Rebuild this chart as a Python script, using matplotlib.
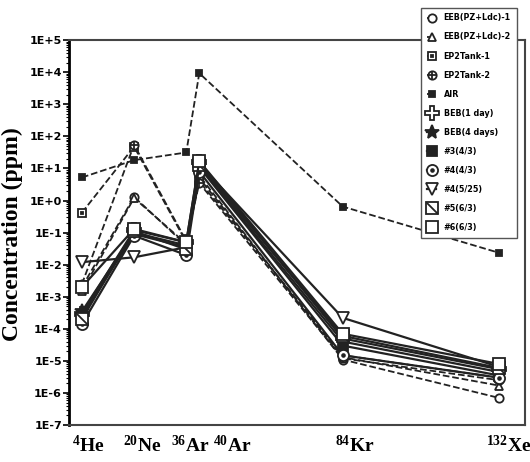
import numpy as np
import matplotlib
matplotlib.use('Agg')
import matplotlib.pyplot as plt
from matplotlib.path import Path
from matplotlib.ticker import LogLocator, FuncFormatter, NullFormatter

plt.rcParams['mathtext.fontset'] = 'custom'
plt.rcParams['mathtext.rm'] = 'Liberation Serif:bold'
plt.rcParams['mathtext.default'] = 'rm'

# isotope masses (x positions) and labels
masses = [4, 20, 36, 40, 84, 132]
iso_labels = [r'$^{4}$He', r'$^{20}$Ne', r'$^{36}$Ar', r'$^{40}$Ar', r'$^{84}$Kr', r'$^{132}$Xe']

# series values (ppm)
eeb1 = [2.0e-3, 1.3, 0.040, 6.0, 1.1e-5, 7.0e-7]
eeb2 = [1.5e-3, 1.2, 0.045, 5.0, 1.3e-5, 1.7e-6]
tank1 = [0.42, 48, 0.050, 4.0, 1.5e-5, 3.0e-6]
tank2 = [2.5e-3, 55, 0.055, 3.5, 1.2e-5, 2.5e-6]
air = [5.24, 18.2, 31.5, 9340, 0.65, 0.0234]
beb1 = [3.0e-4, 0.12, 0.050, 16, 5.0e-5, 5.5e-6]
beb4 = [3.5e-4, 0.10, 0.040, 12, 4.0e-5, 4.5e-6]
s3_43 = [2.5e-4, 0.09, 0.035, 11, 3.0e-5, 3.5e-6]
s4_43 = [1.4e-4, 0.08, 0.020, 8, 1.5e-5, 3.0e-6]
s4_525 = [0.012, 0.017, 0.035, 14, 2.2e-4, 6.5e-6]
s5_63 = [2.0e-4, 0.11, 0.030, 13, 6.0e-5, 6.0e-6]
s6_63 = [2.0e-3, 0.13, 0.050, 17, 7.0e-5, 8.0e-6]

names = ['EEB(PZ+Ldc)-1', 'EEB(PZ+Ldc)-2', 'EP2Tank-1', 'EP2Tank-2', 'AIR',
         'BEB(1 day)', 'BEB(4 days)', '#3(4/3)', '#4(4/3)', '#4(5/25)', '#5(6/3)', '#6(6/3)']
series = [eeb1, eeb2, tank1, tank2, air, beb1, beb4, s3_43, s4_43, s4_525, s5_63, s6_63]

diag = Path([(-1, 1), (1, -1)], [Path.MOVETO, Path.LINETO])
# (linestyle, marker, size, facecolor, overlay marker, overlay size)
styles = [
    ('--', 'o', 6, 'white', None, 0),
    ('--', '^', 6, 'white', None, 0),
    ('--', 's', 6, 'white', 's', 2),
    ('--', 'o', 6, 'white', '+', 6),
    ('--', 's', 4.5, '#222222', None, 0),
    ('-', 'P', 10, 'white', None, 0),
    ('-', '*', 10, '#222222', None, 0),
    ('-', 's', 6.5, '#222222', None, 0),
    ('-', 'o', 8, 'white', '.', 4),
    ('-', 'v', 9, 'white', None, 0),
    ('-', 's', 8, 'white', diag, 8),
    ('-', 's', 8, 'white', None, 0),
]

fig = plt.figure(figsize=(5.30, 4.62), dpi=100)
ax = fig.add_axes([0.130, 0.080, 0.861, 0.833])
col = '#222222'

handles = []
for vals, name, (ls, mk, ms, fc, ov, ovs) in zip(series, names, styles):
    lw = 1.3 if ls == '--' else 1.6
    l1, = ax.plot(masses, vals, linestyle=ls, color=col, lw=lw, marker=mk,
                  markersize=ms, markerfacecolor=fc, markeredgecolor=col,
                  markeredgewidth=1.3, label=name)
    if ov is not None:
        l2, = ax.plot(masses, vals, linestyle='none', marker=ov, markersize=ovs,
                      color=col, markeredgewidth=1.3)
        handles.append((l1, l2))
    else:
        handles.append(l1)

ax.set_yscale('log')
ax.set_ylim(1e-7, 1e5)
ax.set_xlim(0, 140)
ax.set_xticks([])
ax.yaxis.set_major_locator(LogLocator(base=10, numticks=20))
ax.yaxis.set_minor_locator(LogLocator(base=10, subs=np.arange(2, 10), numticks=20))
ax.yaxis.set_minor_formatter(NullFormatter())
ax.yaxis.set_major_formatter(FuncFormatter(lambda v, p: '1E%+d' % int(round(np.log10(v)))))
ax.tick_params(axis='y', which='major', direction='out', length=4, width=1.2,
               labelsize=8, pad=1)
ax.tick_params(axis='y', which='minor', direction='out', length=2, width=0.8)
for t in ax.get_yticklabels():
    t.set_fontweight('bold')

ax.spines['left'].set_linewidth(2)
ax.spines['bottom'].set_linewidth(1.5)
ax.spines['top'].set_linewidth(1.5)
ax.spines['right'].set_linewidth(1.5)
for s in ['top', 'right', 'bottom']:
    ax.spines[s].set_color('#444444')

fig.text(0.023, 0.494, 'Concentration (ppm)', rotation=90, ha='center', va='center',
         family='Liberation Serif', fontweight='bold', fontsize=17)

# element labels under the axis
label_x = [72, 123, 171, 213, 335, 486]
for lx, lab in zip(label_x, iso_labels):
    fig.text(lx / 530, 0.012, lab, ha='left', va='bottom',
             family='Liberation Serif', fontweight='bold', fontsize=14)

leg = ax.legend(handles, names, loc='upper left', bbox_to_anchor=(0.787, 0.992),
                bbox_transform=fig.transFigure, fontsize=5.8, handlelength=1.2,
                fancybox=False, edgecolor='#555555', framealpha=1,
                labelspacing=1.25, borderpad=0.7, handletextpad=0.9)
leg.get_frame().set_linewidth(1)
for t in leg.get_texts():
    t.set_fontweight('bold')

fig.savefig('out.png', dpi=100)
